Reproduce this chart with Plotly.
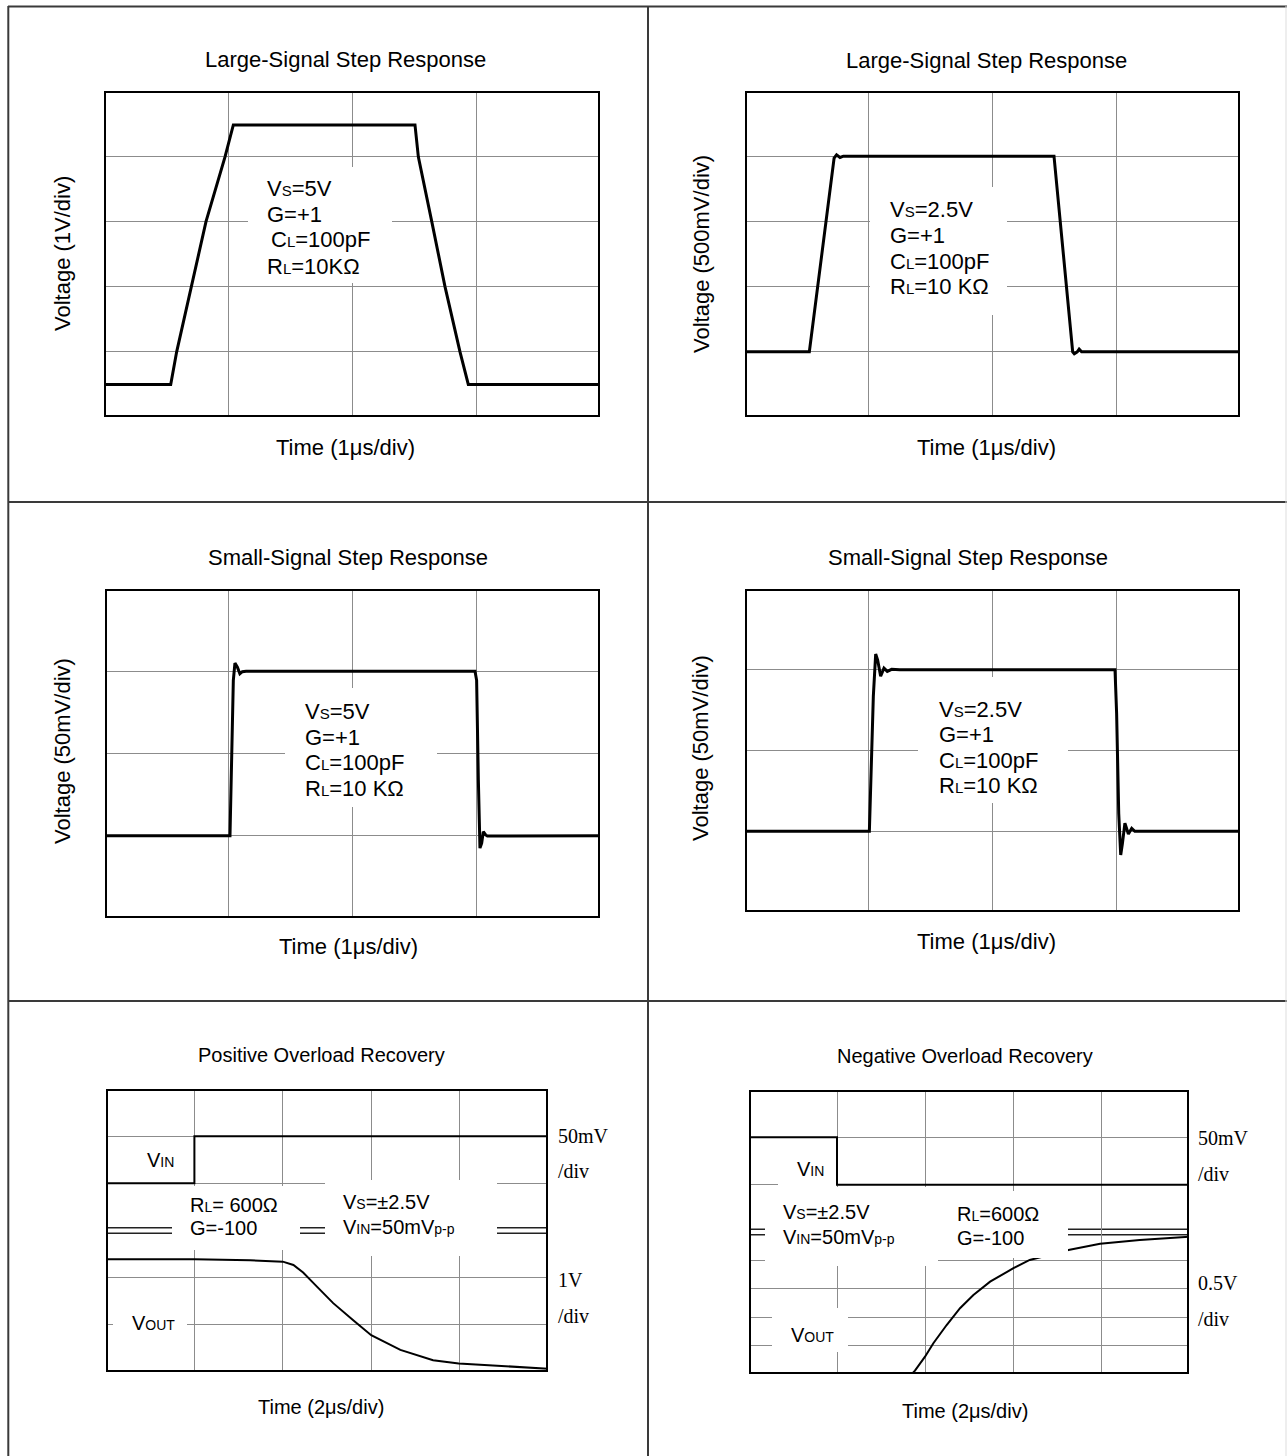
import plotly.graph_objects as go

# ---------------- data (values in scope divisions) ----------------
p1_t = [0, 0.538, 0.586, 0.707, 0.823, 0.976, 1.043, 2.508, 2.535, 2.643, 2.75, 2.871, 2.938, 4]
p1_v = [0.5, 0.5, 1.0, 2.0, 3.0, 3.99, 4.48, 4.48, 3.99, 3.0, 2.0, 1.0, 0.5, 0.5]

p2_t = [0, 0.52, 0.72, 0.74, 0.768, 0.795, 2.497, 2.648, 2.661, 2.685, 2.70, 2.72, 4]
p2_v = [1.0, 1.0, 3.97, 4.02, 3.98, 4.0, 4.0, 1.0, 0.97, 1.0, 1.04, 1.0, 1.0]

p3_t = [0, 1.01, 1.037, 1.05, 1.07, 1.09, 1.11, 1.14, 2.99, 3.003, 3.017, 3.03, 3.044, 3.057, 3.076, 3.09, 4]
p3_v = [1.0, 1.0, 2.89, 3.10, 3.05, 2.97, 2.995, 3.0, 3.0, 2.89, 1.68, 0.85, 0.91, 1.05, 1.01, 0.997, 1.0]

p4_t = [0, 1.005, 1.037, 1.056, 1.072, 1.096, 1.123, 1.15, 1.185, 1.25, 2.99, 3.003, 3.02, 3.036, 3.05, 3.07, 3.098, 3.125, 3.15, 4]
p4_v = [1.0, 1.0, 2.67, 3.195, 3.12, 2.92, 3.02, 2.98, 3.005, 3.0, 3.0, 2.46, 1.22, 0.706, 0.85, 1.10, 0.966, 1.036, 1.0, 1.0]

p5_vin_t = [0, 1.0, 1.0, 5]
p5_vin_v = [4, 4, 5, 5]
p5_vout_t = [0, 1.0, 1.63, 2.0, 2.12, 2.23, 2.35, 2.57, 2.80, 3.0, 3.33, 3.70, 3.99, 4.27, 4.65, 5.0]
p5_vout_v = [2.39, 2.39, 2.37, 2.34, 2.27, 2.11, 1.88, 1.46, 1.09, 0.78, 0.47, 0.25, 0.18, 0.15, 0.11, 0.07]

p6_vin_t = [0, 1.0, 1.0, 5]
p6_vin_v = [5, 5, 4, 4]
p6_vout_t = [0, 1.85, 1.886, 2.0, 2.095, 2.246, 2.398, 2.55, 2.74, 3.0, 3.19, 3.38, 3.63, 3.99, 4.44, 5.0]
p6_vout_v = [0, 0, 0.07, 0.366, 0.65, 1.035, 1.39, 1.67, 1.95, 2.23, 2.41, 2.50, 2.62, 2.75, 2.83, 2.90]

titles = ["Large-Signal Step Response", "Large-Signal Step Response",
          "Small-Signal Step Response", "Small-Signal Step Response",
          "Positive Overload Recovery", "Negative Overload Recovery"]
x_titles = ["Time (1μs/div)", "Time (1μs/div)", "Time (1μs/div)", "Time (1μs/div)",
            "Time (2μs/div)", "Time (2μs/div)"]
y_titles = ["Voltage (1V/div)", "Voltage (500mV/div)", "Voltage (50mV/div)", "Voltage (50mV/div)"]

# ---------------- layout helpers ----------------
W, H = 1287, 1456
FONT = "Liberation Sans, Arial, sans-serif"
SERIF = "Liberation Serif, Times New Roman, serif"


def fx(p):
    return p / W


def fy(p):
    return 1 - p / H


# frame (left, top, right, bottom) in pixels
frames = {1: (104, 91, 600, 417), 2: (745, 91, 1240, 417),
          3: (105, 589, 600, 918), 4: (745, 589, 1240, 912),
          5: (106, 1089, 548, 1372), 6: (749, 1090, 1189, 1374)}
xmax = {1: 4, 2: 4, 3: 4, 4: 4, 5: 5, 6: 5}
ymax = {1: 5, 2: 5, 3: 4, 4: 4, 5: 6, 6: 6}
ygrid = {1: [1, 2, 3, 4], 2: [1, 2, 3, 4], 3: [1, 2, 3], 4: [1, 2, 3],
         5: [1, 2, 4, 5], 6: [0.6, 1.2, 1.8, 2.4, 4, 5]}

fig = go.Figure()

traces = {1: [(p1_t, p1_v, 3)], 2: [(p2_t, p2_v, 3)], 3: [(p3_t, p3_v, 3)], 4: [(p4_t, p4_v, 3)],
          5: [(p5_vin_t, p5_vin_v, 2), (p5_vout_t, p5_vout_v, 2)],
          6: [(p6_vin_t, p6_vin_v, 2), (p6_vout_t, p6_vout_v, 2)]}

layout = {}
shapes = []
for n in range(1, 7):
    l, t, r, b = frames[n]
    sfx = "" if n == 1 else str(n)
    layout["xaxis" + sfx] = dict(domain=[fx(l), fx(r)], range=[0, xmax[n]], anchor="y" + sfx,
                                 tickvals=list(range(1, xmax[n])), showticklabels=False, ticks="",
                                 showgrid=True, gridcolor="#8c8c8c", gridwidth=1,
                                 zeroline=False, showline=False, fixedrange=True)
    layout["yaxis" + sfx] = dict(domain=[fy(b), fy(t)], range=[0, ymax[n]], anchor="x" + sfx,
                                 tickvals=ygrid[n], showticklabels=False, ticks="",
                                 showgrid=True, gridcolor="#8c8c8c", gridwidth=1,
                                 zeroline=False, showline=False, fixedrange=True)
    for tt, vv, w in traces[n]:
        fig.add_trace(go.Scatter(x=tt, y=vv, mode="lines", line=dict(color="black", width=w),
                                 xaxis="x" + sfx, yaxis="y" + sfx, showlegend=False,
                                 hoverinfo="skip", cliponaxis=True))

# double separator lines (two-channel scope display)
for n in (5, 6):
    for yv in (2.94, 3.06):
        shapes.append(dict(type="line", xref="x%d" % n, yref="y%d" % n,
                           x0=0, x1=xmax[n], y0=yv, y1=yv, line=dict(color="#222", width=1.5),
                           layer="below"))

# white boxes behind the in-plot text (paper px)
boxes = [(248, 167, 392, 283), (870, 187, 1007, 315), (285, 688, 437, 807), (918, 677, 1068, 803),
         (172, 1186, 300, 1250), (325, 1180, 497, 1256), (113, 1308, 187, 1340),
         (765, 1187, 938, 1266), (936, 1191, 1068, 1258), (772, 1308, 848, 1352),
         (778, 1150, 836, 1187)]
for (l, t, r, b) in boxes:
    shapes.append(dict(type="rect", xref="paper", yref="paper", x0=fx(l), x1=fx(r),
                       y0=fy(b), y1=fy(t), fillcolor="white", line=dict(width=0), layer="above"))

# panel frames
for n in range(1, 7):
    sfx = "" if n == 1 else str(n)
    shapes.append(dict(type="rect", xref="x" + sfx, yref="y" + sfx,
                       x0=0, x1=xmax[n], y0=0, y1=ymax[n],
                       line=dict(color="black", width=4), layer="above"))

# table borders
border = "#3a3a3a"
for (x0, y0, x1, y1) in [(8, 6.5, 1287, 6.5), (8, 502, 1287, 502), (8, 1001, 1287, 1001),
                         (8.3, 6, 8.3, 1456), (648, 6, 648, 1456)]:
    shapes.append(dict(type="line", xref="paper", yref="paper", x0=fx(x0), x1=fx(x1),
                       y0=fy(y0), y1=fy(y1), line=dict(color=border, width=2), layer="above"))
shapes.append(dict(type="line", xref="paper", yref="paper", x0=fx(1286), x1=fx(1286),
                   y0=fy(6), y1=fy(1456), line=dict(color="#dddddd", width=1), layer="above"))

ann = []


def text(s, x, y, size=22, anchor="left", family=FONT, angle=0):
    ann.append(dict(text=s, x=fx(x), y=fy(y), xref="paper", yref="paper", showarrow=False,
                    xanchor=anchor, yanchor="middle", textangle=angle,
                    font=dict(family=family, size=size, color="black")))


def sm(s, size=15):
    return "<span style='font-size:%dpx'>%s</span>" % (size, s)


# titles and axis titles
for s, (x, y), sz in zip(titles, [(345, 60), (986, 61), (348, 557), (968, 557), (321, 1055), (965, 1056)],
                         [22, 22, 22, 22, 20, 20]):
    text(s, x, y, sz, "center")
for s, (x, y), sz in zip(x_titles, [(345, 447), (986, 447), (348, 946), (986, 941), (321, 1407), (965, 1411)],
                         [22, 22, 22, 22, 20, 20]):
    text(s, x, y, sz, "center")
for s, (x, y) in zip(y_titles, [(62, 254), (701, 254), (62, 751), (701, 748)]):
    text(s, x, y, 22, "center", angle=-90)

# in-plot parameter text, panels 1-4
p1_lines = ["V" + sm("S") + "=5V", "G=+1", "C" + sm("L") + "=100pF", "R" + sm("L") + "=10KΩ"]
for s, (x, y) in zip(p1_lines, [(265, 189), (265, 214), (269, 240), (265, 266)]):
    text(s, x, y)
p2_lines = ["V" + sm("S") + "=2.5V", "G=+1", "C" + sm("L") + "=100pF", "R" + sm("L") + "=10 KΩ"]
for s, y in zip(p2_lines, [210, 236, 261, 287]):
    text(s, 888, y)
p3_lines = ["V" + sm("S") + "=5V", "G=+1", "C" + sm("L") + "=100pF", "R" + sm("L") + "=10 KΩ"]
for s, y in zip(p3_lines, [711, 737, 762, 788]):
    text(s, 303, y)
for s, y in zip(p2_lines, [709, 734, 760, 785]):
    text(s, 937, y)

# panel 5
text("R" + sm("L", 14) + "= 600Ω", 188, 1205, 20)
text("G=-100", 188, 1228, 20)
text("V" + sm("S", 14) + "=±2.5V", 341, 1202, 20)
text("V" + sm("IN", 14) + "=50mV" + sm("p-p", 14), 341, 1227, 20)
text("V" + sm("IN", 14), 145, 1160, 20)
text("V" + sm("OUT", 14), 130, 1323, 20)
for s, y in zip(["50mV", "/div", "1V", "/div"], [1136, 1171, 1280, 1316]):
    text(s, 556, y, 20, family=SERIF)

# panel 6
text("V" + sm("IN", 14), 795, 1169, 20)
text("V" + sm("S", 14) + "=±2.5V", 781, 1212, 20)
text("V" + sm("IN", 14) + "=50mV" + sm("p-p", 14), 781, 1237, 20)
text("R" + sm("L", 14) + "=600Ω", 955, 1214, 20)
text("G=-100", 955, 1238, 20)
text("V" + sm("OUT", 14), 789, 1335, 20)
for s, y in zip(["50mV", "/div", "0.5V", "/div"], [1138, 1174, 1283, 1319]):
    text(s, 1196, y, 20, family=SERIF)

fig.update_layout(**layout)
fig.update_layout(width=W, height=H, autosize=False, margin=dict(l=0, r=0, t=0, b=0),
                  paper_bgcolor="white", plot_bgcolor="white", shapes=shapes, annotations=ann,
                  showlegend=False, font=dict(family=FONT, color="black"))
fig.write_html("out.html", config={"displayModeBar": False},
               post_script="document.body.style.margin='0px';document.body.style.overflow='hidden';")
